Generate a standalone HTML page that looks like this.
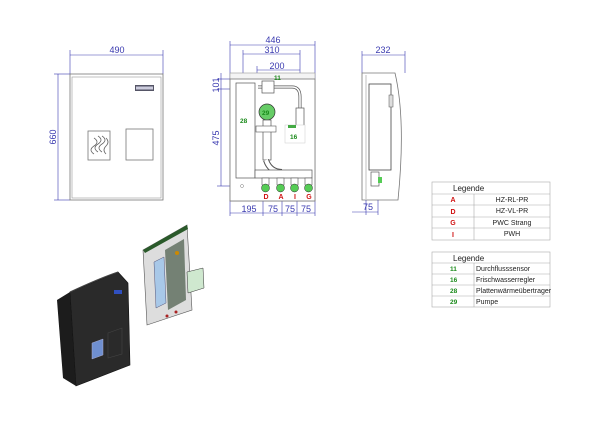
<!DOCTYPE html>
<html><head><meta charset="utf-8"><style>
html,body{margin:0;padding:0;background:#fff;}
svg{display:block;font-family:"Liberation Sans",sans-serif;}
.d{stroke:#3a3ab0;stroke-width:0.6;fill:none}
.dt{fill:#3a3ab0;font-size:9px;text-anchor:middle}
.o{stroke:#777;stroke-width:0.8;fill:#fff}
.l{stroke:#999;stroke-width:0.6;fill:none}
.g{fill:#1a8a1a;font-size:6.5px;font-weight:bold}
.r{fill:#d01010;font-size:7px;font-weight:bold;text-anchor:middle}
.t{font-size:7px;fill:#222}
</style></head><body>
<svg width="600" height="424" viewBox="0 0 600 424">
<!-- Front view -->
<line class="d" x1="70" y1="55" x2="163" y2="55"/><line class="d" x1="70" y1="50" x2="70" y2="74"/><line class="d" x1="163" y1="50" x2="163" y2="74"/>
<text class="dt" x="117" y="53">490</text>
<line class="d" x1="58" y1="74" x2="58" y2="200"/><line class="d" x1="54" y1="74" x2="70" y2="74"/><line class="d" x1="54" y1="200" x2="70" y2="200"/>
<text class="dt" transform="translate(56,137) rotate(-90)">660</text>
<rect class="o" x="70" y="74" width="93" height="126"/>
<rect class="l" x="72" y="77" width="89" height="121"/>
<rect x="135" y="85" width="19" height="6" fill="#556" /><rect x="136" y="86.5" width="17" height="3" fill="#ccd"/>
<rect class="o" x="88" y="131" width="22" height="29"/>
<path d="M94 138 q6 4 0 8 q-6 4 0 8 M98 136 q6 4 0 8 q-6 4 0 8 M102 136 q6 4 0 8 q-6 4 0 8 M106 138 q4 4 0 8 q-4 4 0 8" stroke="#666" stroke-width="0.8" fill="none"/>
<rect class="o" x="126" y="129" width="27" height="31"/>
<!-- Middle view dims -->
<line class="d" x1="230" y1="45" x2="315" y2="45"/><line class="d" x1="230" y1="41" x2="230" y2="79"/><line class="d" x1="315" y1="41" x2="315" y2="79"/>
<text class="dt" x="273" y="43">446</text>
<line class="d" x1="243" y1="54" x2="300" y2="54"/><line class="d" x1="243" y1="50" x2="243" y2="79"/><line class="d" x1="300" y1="50" x2="300" y2="79"/>
<text class="dt" x="272" y="53">310</text>
<line class="d" x1="257" y1="70" x2="300" y2="70"/><line class="d" x1="257" y1="66" x2="257" y2="79"/>
<text class="dt" x="277" y="69">200</text>
<line class="d" x1="221" y1="73" x2="221" y2="186"/><line class="d" x1="217" y1="79" x2="232" y2="79"/><line class="d" x1="217" y1="89" x2="232" y2="89"/><line class="d" x1="217" y1="186" x2="232" y2="186"/>
<text class="dt" transform="translate(219,85) rotate(-90)">101</text>
<text class="dt" transform="translate(219,138) rotate(-90)">475</text>
<line class="d" x1="230" y1="213" x2="315" y2="213"/>
<line class="d" x1="230" y1="200" x2="230" y2="216"/><line class="d" x1="263" y1="200" x2="263" y2="216"/><line class="d" x1="282" y1="200" x2="282" y2="216"/><line class="d" x1="297" y1="200" x2="297" y2="216"/><line class="d" x1="315" y1="200" x2="315" y2="216"/>
<text class="dt" x="249" y="212">195</text><text class="dt" x="273" y="212">75</text><text class="dt" x="290" y="212">75</text><text class="dt" x="306" y="212">75</text>
<!-- Middle body -->
<rect x="230" y="73" width="85" height="128" fill="#f4f4f4" stroke="#999" stroke-width="0.6"/>
<rect class="o" x="230" y="79" width="85" height="122"/>
<rect x="236" y="83" width="19" height="95" fill="#fff" stroke="#555" stroke-width="0.7"/>
<text class="g" x="240" y="123">28</text>
<path d="M258 87 H292 Q300 87 300 97 V110" stroke="#555" stroke-width="3" fill="none"/>
<path d="M258 87 H292 Q300 87 300 97 V110" stroke="#fff" stroke-width="1.6" fill="none"/>
<rect x="296" y="108" width="8" height="22" fill="#fff" stroke="#555" stroke-width="0.7"/>
<circle cx="267" cy="112" r="8" fill="#6c6" stroke="#333" stroke-width="0.7"/><text class="g" x="262" y="115" fill="#111">29</text>
<rect x="262" y="81" width="12" height="12" fill="#fff" stroke="#555" stroke-width="0.7"/>
<text class="g" x="274" y="80">11</text>
<rect x="263" y="120" width="8" height="40" fill="#fff" stroke="#555" stroke-width="0.7"/>
<rect x="256" y="126" width="20" height="6" fill="#fff" stroke="#555" stroke-width="0.6"/>
<rect x="285" y="125" width="20" height="18" fill="#fff" stroke="#ccc" stroke-width="0.5"/>
<rect x="288" y="125" width="8" height="3" fill="#4a4"/>
<text class="g" x="290" y="139">16</text>
<path d="M266 160 Q270 172 282 172" stroke="#555" stroke-width="6" fill="none"/>
<path d="M266 160 Q270 172 282 172" stroke="#fff" stroke-width="4" fill="none"/>
<rect x="255" y="170" width="57" height="8" fill="#fff" stroke="#555" stroke-width="0.7"/>
<g fill="#fff" stroke="#555" stroke-width="0.6"><rect x="262" y="178" width="7" height="7"/><rect x="277" y="178" width="7" height="7"/><rect x="291" y="178" width="7" height="7"/><rect x="305" y="178" width="7" height="7"/></g>
<g fill="#5c5" stroke="#333" stroke-width="0.5"><circle cx="265.5" cy="188" r="4"/><circle cx="280.5" cy="188" r="4"/><circle cx="294.5" cy="188" r="4"/><circle cx="308.5" cy="188" r="4"/></g>
<text class="r" x="266" y="199">D</text><text class="r" x="281" y="199">A</text><text class="r" x="295" y="199">I</text><text class="r" x="309" y="199">G</text>
<circle cx="242" cy="186" r="1.5" fill="none" stroke="#777" stroke-width="0.5"/>
<!-- Side view -->
<line class="d" x1="362" y1="55" x2="405" y2="55"/><line class="d" x1="362" y1="51" x2="362" y2="73"/><line class="d" x1="405" y1="51" x2="405" y2="73"/>
<text class="dt" x="383" y="53">232</text>
<path d="M362 73 H395 Q406 120 398 200 H362 Z" fill="#fff" stroke="#777" stroke-width="0.8"/>
<line class="l" x1="366" y1="75" x2="366" y2="199"/>
<rect x="369" y="84" width="22" height="86" fill="#fff" stroke="#444" stroke-width="0.8"/>
<rect x="389" y="95" width="4" height="12" fill="#ddd" stroke="#555" stroke-width="0.5"/>
<rect x="371" y="172" width="8" height="14" fill="#fff" stroke="#444" stroke-width="0.6"/>
<rect x="378" y="177" width="4" height="6" fill="#5c5"/>
<line class="d" x1="352" y1="212" x2="378" y2="212"/><line class="d" x1="366" y1="200" x2="366" y2="215"/><line class="d" x1="378" y1="200" x2="378" y2="215"/>
<text class="dt" x="368" y="210">75</text>
<!-- Legend 1 -->
<g stroke="#aaa" stroke-width="0.6" fill="none">
<rect x="432" y="182" width="118" height="58"/>
<line x1="432" y1="194" x2="550" y2="194"/><line x1="432" y1="205" x2="550" y2="205"/><line x1="432" y1="217" x2="550" y2="217"/><line x1="432" y1="228" x2="550" y2="228"/>
<line x1="474" y1="194" x2="474" y2="240"/>
<rect x="432" y="252" width="118" height="55"/>
<line x1="432" y1="263" x2="550" y2="263"/><line x1="432" y1="274" x2="550" y2="274"/><line x1="432" y1="285" x2="550" y2="285"/><line x1="432" y1="296" x2="550" y2="296"/>
<line x1="474" y1="263" x2="474" y2="307"/>
</g>
<text x="453" y="191" font-size="8" fill="#222">Legende</text>
<text class="r" x="453" y="202" font-size="6">A</text><text class="r" x="453" y="214">D</text><text class="r" x="453" y="225">G</text><text class="r" x="453" y="237">I</text>
<g class="t" text-anchor="middle"><text x="512" y="202">HZ-RL-PR</text><text x="512" y="213">HZ-VL-PR</text><text x="512" y="225">PWC Strang</text><text x="512" y="236">PWH</text></g>
<text x="453" y="261" font-size="8" fill="#222">Legende</text>
<text class="g" x="450" y="271">11</text><text class="g" x="450" y="282">16</text><text class="g" x="450" y="293">28</text><text class="g" x="450" y="304">29</text>
<g class="t"><text x="476" y="271">Durchflusssensor</text><text x="476" y="282">Frischwasserregler</text><text x="476" y="293">Plattenwärmeübertrager</text><text x="476" y="304">Pumpe</text></g>
<!-- 3D black box -->
<polygon points="57,300 70,292 76,386 63,378" fill="#1c1c1c"/>
<polygon points="70,292 118,272 128,283 130,365 76,386" fill="#2a2a2a" stroke="#111" stroke-width="0.6"/>
<path d="M70 292 Q100 278 118 272" stroke="#444" stroke-width="1" fill="none"/>
<rect x="114" y="290" width="8" height="4" fill="#3050c0"/>
<polygon points="92,343 103,339 103,355 92,359" fill="#6f8fd0" stroke="#aac" stroke-width="0.5"/>
<polygon points="108,333 122,328 122,354 108,358" fill="none" stroke="#444" stroke-width="0.6"/>
<!-- 3D panel -->
<polygon points="143,250 187,225 192,310 147,325" fill="#ddd" stroke="#555" stroke-width="0.6"/>
<polygon points="143,250 187,225 188,229 145,253" fill="#2a5a2a"/>
<polygon points="154,262 164,257 166,303 156,308" fill="#a8c8e8" stroke="#557" stroke-width="0.5"/>
<polygon points="165,250 184,239 186,300 168,310" fill="#5a6a5a" opacity="0.8"/>
<polygon points="187,272 203,268 204,288 188,293" fill="#cfe8cf" stroke="#333" stroke-width="0.5"/>
<circle cx="177" cy="253" r="2" fill="#c80"/>
<circle cx="167" cy="316" r="1.5" fill="#a22"/><circle cx="176" cy="312" r="1.5" fill="#a22"/>
</svg>
</body></html>
